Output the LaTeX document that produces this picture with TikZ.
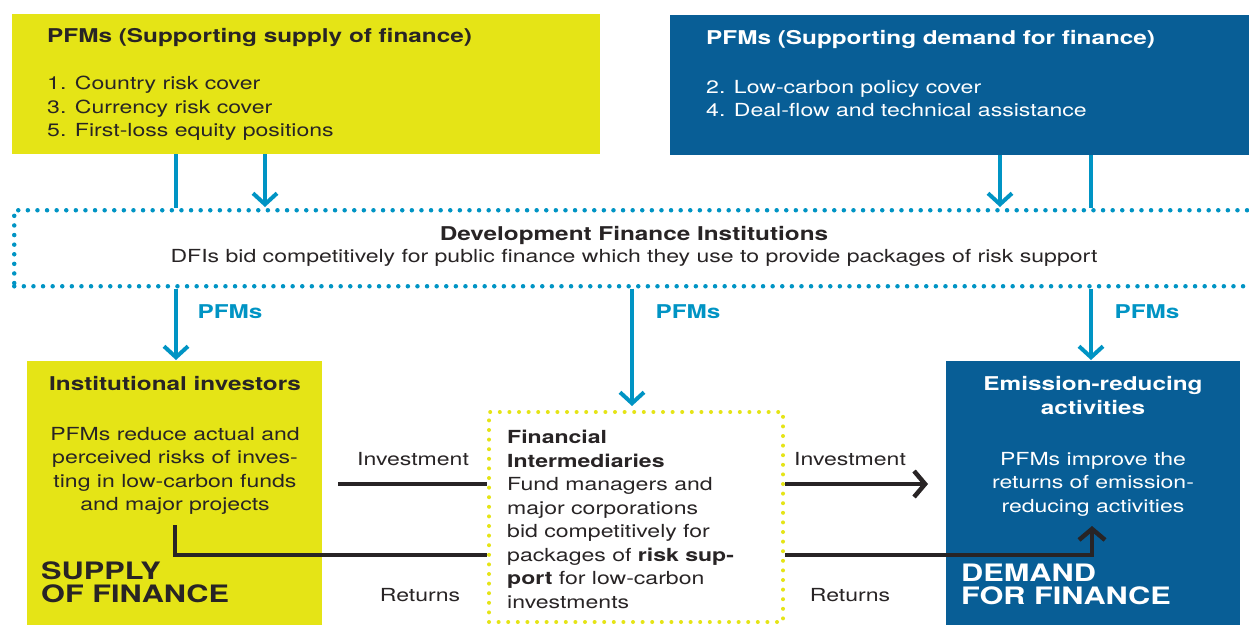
\documentclass[tikz,border=0pt]{standalone}
\usepackage{fontspec}
\setmainfont{TeX Gyre Heros}[FakeStretch=1.28]
\usetikzlibrary{arrows.meta,positioning}
\definecolor{pfmyellow}{RGB}{229,228,22}
\definecolor{pfmblue}{RGB}{8,94,150}
\definecolor{pfmteal}{RGB}{0,148,196}
\definecolor{pfmtext}{RGB}{40,36,37}
\tikzset{flow/.style={line width=4.5pt,draw=pfmtext}}
\tikzset{pfmline/.style={line width=4pt,draw=pfmteal}}
\tikzset{dotbox/.style={line width=4.5pt,dash pattern=on 0pt off 9.6pt,line cap=round}}
\tikzset{panel/.style={inner sep=0pt,anchor=north west,draw=none}}
\tikzset{body/.style={inner sep=0pt,text=pfmtext,font=\fontsize{18}{23.5}\selectfont}}
\tikzset{head/.style={inner sep=0pt,text=pfmtext,font=\fontsize{19}{24}\selectfont\bfseries}}
\tikzset{big/.style={inner sep=0pt,anchor=west,align=left,font=\fontsize{24}{23}\selectfont\bfseries}}

\begin{document}
\begin{tikzpicture}[x=1pt,y=-1pt]
	\useasboundingbox[fill=white] (0,0) rectangle (1249,624);
	% columns for the arrows
	\coordinate (colA) at (176,0);
	\coordinate (colB) at (265,0);
	\coordinate (colM) at (632,0);
	\coordinate (colC) at (1000,0);
	\coordinate (colD) at (1091,0);
	\coordinate (invrow) at (0,484);
	\coordinate (retrow) at (0,555);

	% boxes
	\node[panel,fill=pfmyellow,minimum width=588pt,minimum height=140pt] (pfmsupply) at (12,14) {};
	\node[panel,fill=pfmblue,minimum width=590pt,minimum height=140pt] (pfmdemand) at (670,15) {};
	\node[panel,dotbox,draw=pfmteal,minimum width=1260pt,minimum height=76pt] (dfi) at (12,208) {};
	\node[panel,fill=pfmyellow,minimum width=295pt,minimum height=270pt] (invest) at (27,361) {};
	\node[panel,dotbox,draw=pfmyellow,line width=4pt,minimum width=294pt,minimum height=210pt] (fin) at (487,410) {};
	\node[panel,fill=pfmblue,minimum width=294pt,minimum height=270pt] (emit) at (946,361) {};

	% texts
	\node[head,anchor=west] (supplyhead) at (47,38) {PFMs (Supporting supply of finance)};
	\node[body,anchor=north west,align=left] (supplylist) at (47,76) {1. Country risk cover\\3. Currency risk cover\\5. First-loss equity positions};
	\node[head,anchor=west,text=white] (demandhead) at (706,39) {PFMs (Supporting demand for finance)};
	\node[body,anchor=north west,align=left,text=white] (demandlist) at (706,80) {2. Low-carbon policy cover\\4. Deal-flow and technical assistance};
	\node[head,anchor=center] (dfihead) at (634,235) {Development Finance Institutions};
	\node[body,anchor=center] (dfitext) at (634,258) {DFIs bid competitively for public finance which they use to provide packages of risk support};
	\node[head,anchor=center] (investhead) at (175,384) {Institutional investors};
	\node[body,anchor=north,align=center] (investtext) at (175,427) {PFMs reduce actual and\\perceived risks of inves-\\ting in low-carbon funds\\and major projects};
	\node[big,text=pfmtext] (supplylabel) at (41,582) {SUPPLY\\OF FINANCE};
	\node[body,anchor=north west,align=left] (fintext) at (507,430) {\bfseries Financial\\\bfseries Intermediaries\\Fund managers and\\major corporations\\bid competitively for\\packages of \textbf{risk sup-}\\\textbf{port} for low-carbon\\investments};
	\node[head,anchor=north,align=center,text=white] (emithead) at (1093,376) {Emission-reducing\\activities};
	\node[body,anchor=north,align=center,text=white] (emittext) at (1093,452) {PFMs improve the\\returns of emission-\\reducing activities};
	\node[big,text=white] (demandlabel) at (961,584) {DEMAND\\FOR FINANCE};
	\node[body] (invleft) at (413,459) {Investment};
	\node[body] (invright) at (850,459) {Investment};
	\node[body] (retleft) at (420,595) {Returns};
	\node[body] (retright) at (850,595) {Returns};
	\foreach \col/\x in {colA/230,colM/688,colD/1147}{
		\node[head,text=pfmteal] (lbl\col) at (\x,312) {PFMs};
	}

	% teal flows
	\draw[pfmline] (pfmsupply.south -| colA) -- (dfi.north -| colA);
	\draw[pfmline,-{Straight Barb[length=11pt,width=24pt]}] (pfmsupply.south -| colB) -- ([yshift=1pt]dfi.north -| colB);
	\draw[pfmline,-{Straight Barb[length=11pt,width=24pt]}] (pfmdemand.south -| colC) -- ([yshift=1pt]dfi.north -| colC);
	\draw[pfmline] (pfmdemand.south -| colD) -- (dfi.north -| colD);
	\draw[pfmline,-{Straight Barb[length=11pt,width=24pt]}] (dfi.south -| colA) -- ([yshift=1pt]invest.north -| colA);
	\draw[pfmline,-{Straight Barb[length=11pt,width=24pt]}] (dfi.south -| colM) -- ([yshift=4pt]fin.north -| colM);
	\draw[pfmline,-{Straight Barb[length=11pt,width=24pt]}] (dfi.south -| colD) -- ([yshift=1pt]emit.north -| colD);

	% black flows
	\coordinate (invstart) at (338,484);
	\coordinate (invend) at (928,484);
	\coordinate (retstart) at (175,525);
	\coordinate (retend) at (1092,526);
	\draw[flow] (invstart) -- (fin.west |- invrow);
	\draw[flow,-{Straight Barb[length=11pt,width=26pt]}] (fin.east |- invrow) -- (invend);
	\draw[flow] (retstart) |- (fin.west |- retrow);
	\draw[flow,-{Straight Barb[length=11pt,width=26pt]}] (fin.east |- retrow) -| (retend);
\end{tikzpicture}
\end{document}
